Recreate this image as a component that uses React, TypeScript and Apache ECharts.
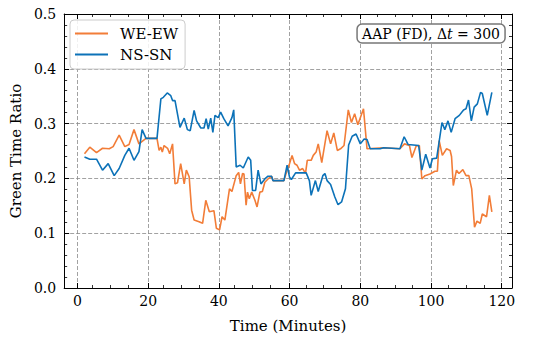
import React, { useEffect, useRef } from "react";
import * as echarts from "echarts";

// Time (minutes), green time ratio
const weEw: [number, number][] = [
  [2.0, 0.245], [3.5, 0.257], [5.4, 0.247], [7.1, 0.255], [9.0, 0.254], [10.1, 0.258],
  [11.8, 0.279], [13.4, 0.258], [14.6, 0.262], [16.0, 0.289], [17.4, 0.263], [19.4, 0.273],
  [22.5, 0.273], [23.1, 0.251], [23.6, 0.257], [24.0, 0.248], [24.5, 0.26], [25.5, 0.255],
  [26.1, 0.245], [26.9, 0.263], [27.6, 0.19], [28.3, 0.192], [29.2, 0.227], [30.2, 0.19],
  [30.8, 0.215], [31.6, 0.203], [32.3, 0.142], [33.0, 0.124], [34.4, 0.121], [35.4, 0.118],
  [36.3, 0.16], [37.3, 0.139], [38.6, 0.141], [39.3, 0.109], [40.2, 0.106], [40.9, 0.13],
  [41.7, 0.124], [43.0, 0.181], [43.7, 0.176], [44.9, 0.205], [45.6, 0.211], [46.1, 0.19],
  [46.7, 0.209], [47.1, 0.208], [47.7, 0.151], [48.1, 0.175], [48.6, 0.163], [49.3, 0.175],
  [50.2, 0.16], [50.8, 0.148], [51.6, 0.175], [52.3, 0.176], [53.0, 0.193], [53.9, 0.199],
  [54.9, 0.204], [55.3, 0.196], [58.4, 0.196], [59.3, 0.215], [60.0, 0.227], [60.7, 0.242],
  [61.4, 0.227], [62.1, 0.224], [62.8, 0.215], [63.7, 0.218], [64.5, 0.209], [65.0, 0.233],
  [66.1, 0.233], [66.7, 0.242], [67.5, 0.248], [68.1, 0.263], [69.1, 0.229], [70.6, 0.287],
  [71.6, 0.263], [72.5, 0.283], [73.5, 0.251], [74.4, 0.254], [75.4, 0.26], [76.6, 0.325],
  [77.5, 0.302], [78.4, 0.318], [79.3, 0.298], [80.9, 0.327], [81.9, 0.254], [86.6, 0.256],
  [91.2, 0.254], [92.5, 0.263], [93.9, 0.26], [94.6, 0.238], [95.8, 0.259], [96.7, 0.26],
  [97.4, 0.199], [98.3, 0.205], [99.7, 0.208], [101.1, 0.213], [101.8, 0.213], [102.3, 0.269],
  [103.2, 0.242], [104.4, 0.254], [105.4, 0.251], [105.8, 0.24], [106.3, 0.187], [107.2, 0.215],
  [107.9, 0.209], [109.0, 0.216], [109.9, 0.205], [110.7, 0.205], [111.5, 0.181], [112.3, 0.111],
  [113.0, 0.122], [113.9, 0.118], [114.5, 0.135], [115.7, 0.13], [116.5, 0.169], [117.2, 0.139],
];

const nsSn: [number, number][] = [
  [2.0, 0.239], [3.5, 0.235], [5.4, 0.235], [7.1, 0.215], [8.7, 0.227], [10.4, 0.205],
  [11.8, 0.218], [13.4, 0.242], [14.6, 0.255], [16.0, 0.233], [17.4, 0.249], [18.3, 0.289],
  [19.4, 0.273], [22.5, 0.273], [23.6, 0.345], [24.3, 0.348], [25.4, 0.356], [26.4, 0.351],
  [26.9, 0.342], [27.6, 0.342], [29.0, 0.293], [30.2, 0.31], [31.1, 0.289], [31.9, 0.287],
  [33.0, 0.324], [33.7, 0.305], [34.9, 0.292], [35.8, 0.292], [36.4, 0.309], [37.0, 0.29],
  [37.7, 0.31], [38.3, 0.284], [38.9, 0.315], [39.8, 0.311], [40.5, 0.321], [41.4, 0.309],
  [42.6, 0.296], [43.7, 0.311], [44.2, 0.325], [44.9, 0.221], [46.0, 0.224], [46.9, 0.219],
  [48.3, 0.239], [49.0, 0.233], [49.5, 0.178], [50.4, 0.178], [51.1, 0.215], [51.9, 0.19],
  [53.0, 0.199], [53.9, 0.204], [54.9, 0.204], [55.3, 0.196], [58.4, 0.196], [59.3, 0.224],
  [60.0, 0.202], [60.5, 0.198], [61.7, 0.21], [64.7, 0.21], [65.6, 0.196], [66.1, 0.169],
  [67.3, 0.196], [68.1, 0.176], [69.4, 0.205], [70.0, 0.209], [70.6, 0.196], [71.6, 0.189],
  [72.8, 0.166], [73.7, 0.152], [74.7, 0.157], [75.8, 0.181], [76.7, 0.261], [77.7, 0.277],
  [78.8, 0.281], [80.0, 0.263], [81.1, 0.272], [81.9, 0.271], [82.8, 0.254], [85.6, 0.254],
  [86.6, 0.256], [91.2, 0.254], [92.4, 0.276], [93.5, 0.262], [96.5, 0.26], [97.4, 0.215],
  [98.5, 0.244], [99.7, 0.219], [100.4, 0.236], [101.6, 0.237], [103.1, 0.302], [103.9, 0.289],
  [104.8, 0.305], [105.7, 0.284], [106.8, 0.309], [108.0, 0.315], [109.2, 0.325], [109.9, 0.327],
  [110.6, 0.343], [111.4, 0.305], [112.2, 0.33], [113.1, 0.336], [114.0, 0.357], [114.5, 0.355],
  [115.9, 0.315], [117.2, 0.357],
];

const seriesNames = ["WE-EW", "NS-SN"];
const xMin = -3.75;
const xMax = 122.9;
const xMajorTicks = [0, 20, 40, 60, 80, 100, 120];
const xMinorTicks = [5, 10, 15, 25, 30, 35, 45, 50, 55, 65, 70, 75, 85, 90, 95, 105, 110, 115];
const yMin = 0;
const yMax = 0.5;
const yMajor = 0.1;

const FONT = "DejaVu Serif";

export default function App() {
  const ref = useRef<HTMLDivElement>(null);
  useEffect(() => {
    if (!ref.current) return;
    const chart = echarts.init(ref.current, null, { renderer: "svg" });
    const gridRect = { left: 61, right: 21, top: 14, bottom: 56, containLabel: false };
    const axisLine = { show: true, onZero: false, lineStyle: { color: "#000", width: 1 } };
    const majorTick = { show: true, inside: true, length: 5, lineStyle: { color: "#000", width: 1 } };
    const minorTickX = {
      show: true,
      inside: true,
      length: 3,
      customValues: xMinorTicks,
      lineStyle: { color: "#000", width: 0.8 },
    };
    const minorY = { show: true, splitNumber: 5, length: 3, lineStyle: { color: "#000", width: 0.8 } };
    const split = { show: true, lineStyle: { color: "#8a8a8a", width: 0.8, type: [4, 2] } };
    chart.setOption({
      animation: false,
      backgroundColor: "#fff",
      textStyle: { fontFamily: FONT },
      grid: [gridRect, { ...gridRect }],
      title: {
        text: "AAP (FD), Δ{it|t} = 300",
        right: 28,
        top: 24,
        padding: [3, 5, 2, 5],
        borderColor: "#777",
        borderWidth: 1.5,
        borderRadius: 5,
        backgroundColor: "#fff",
        textStyle: {
          fontFamily: FONT,
          fontSize: 14,
          fontWeight: "normal",
          color: "#000",
          rich: { it: { fontFamily: FONT, fontSize: 14, fontStyle: "italic", color: "#000" } },
        },
      },
      legend: {
        orient: "vertical",
        left: 70,
        top: 20,
        data: seriesNames,
        icon: "rect",
        itemWidth: 33,
        itemHeight: 2,
        itemGap: 6,
        padding: [6, 7, 7, 5],
        borderColor: "#cccccc",
        borderWidth: 1,
        borderRadius: 4,
        backgroundColor: "rgba(255,255,255,0.85)",
        textStyle: { fontFamily: FONT, fontSize: 15, color: "#000", lineHeight: 15, padding: [0, 0, 0, 7] },
      },
      xAxis: [
        {
          type: "value",
          gridIndex: 0,
          position: "bottom",
          min: xMin,
          max: xMax,
          axisLine,
          axisTick: { ...majorTick, customValues: xMajorTicks },
          minorTick: { show: false },
          splitLine: split,
          axisLabel: {
            customValues: xMajorTicks,
            color: "#000",
            fontFamily: FONT,
            fontSize: 14,
            margin: 6,
          },
          name: "Time (Minutes)",
          nameLocation: "middle",
          nameGap: 30,
          nameTextStyle: { fontFamily: FONT, fontSize: 15, color: "#000" },
        },
        {
          type: "value",
          gridIndex: 0,
          position: "top",
          min: xMin,
          max: xMax,
          axisLine,
          axisTick: { ...majorTick, customValues: xMajorTicks },
          minorTick: { show: false },
          splitLine: { show: false },
          axisLabel: { show: false },
        },
        {
          type: "value",
          gridIndex: 1,
          position: "bottom",
          min: xMin,
          max: xMax,
          axisLine: { show: false },
          axisTick: minorTickX,
          minorTick: { show: false },
          splitLine: { show: false },
          axisLabel: { show: false },
        },
        {
          type: "value",
          gridIndex: 1,
          position: "top",
          min: xMin,
          max: xMax,
          axisLine: { show: false },
          axisTick: minorTickX,
          minorTick: { show: false },
          splitLine: { show: false },
          axisLabel: { show: false },
        },
      ],
      yAxis: [
        {
          type: "value",
          gridIndex: 0,
          position: "left",
          min: yMin,
          max: yMax,
          interval: yMajor,
          axisLine,
          axisTick: majorTick,
          minorTick: minorY,
          splitLine: split,
          axisLabel: {
            color: "#000",
            fontFamily: FONT,
            fontSize: 14,
            margin: 8,
            formatter: (v: number) => v.toFixed(1),
          },
          name: "Green Time Ratio",
          nameLocation: "middle",
          nameGap: 37,
          nameTextStyle: { fontFamily: FONT, fontSize: 15, color: "#000" },
        },
        {
          type: "value",
          gridIndex: 0,
          position: "right",
          min: yMin,
          max: yMax,
          interval: yMajor,
          axisLine,
          axisTick: majorTick,
          minorTick: minorY,
          splitLine: { show: false },
          axisLabel: { show: false },
        },
        {
          type: "value",
          gridIndex: 1,
          min: yMin,
          max: yMax,
          show: false,
        },
      ],
      series: [
        {
          name: seriesNames[0],
          type: "line",
          data: weEw,
          xAxisIndex: 0,
          yAxisIndex: 0,
          showSymbol: false,
          symbol: "none",
          color: "#F27D38",
          lineStyle: { color: "#F27D38", width: 1.6 },
        },
        {
          name: seriesNames[1],
          type: "line",
          data: nsSn,
          xAxisIndex: 0,
          yAxisIndex: 0,
          showSymbol: false,
          symbol: "none",
          color: "#0C72B8",
          lineStyle: { color: "#0C72B8", width: 1.6 },
        },
      ],
    });
    return () => chart.dispose();
  }, []);
  return (
    <div
      ref={ref}
      style={{ position: "absolute", left: 0, top: 0, width: 533, height: 344 }}
    />
  );
}
